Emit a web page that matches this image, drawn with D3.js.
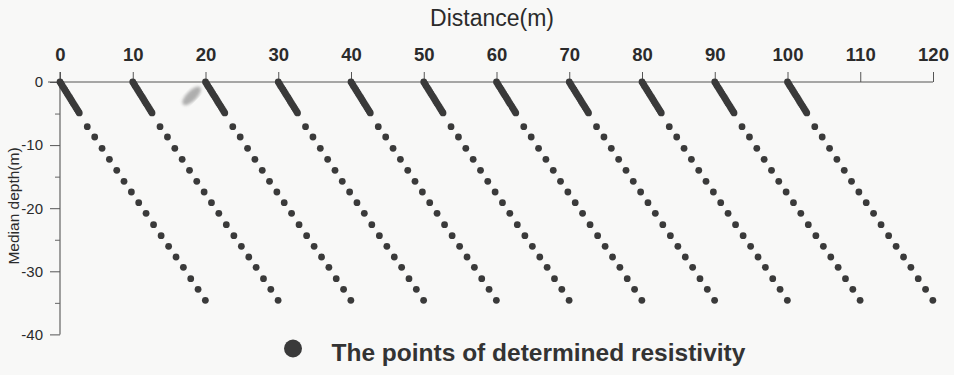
<!DOCTYPE html>
<html>
<head>
<meta charset="utf-8">
<script src="https://cdn.jsdelivr.net/npm/d3@7"></script>
<style>
  html, body { margin: 0; padding: 0; background: #f8f8f7; }
  svg { display: block; font-family: 'Liberation Sans', Arial, sans-serif; }
</style>
</head>
<body>
<svg id="chart" width="954" height="375"></svg>
<script>
// distance where each sounding line starts (m)
const lineStarts = [0, 10, 20, 30, 40, 50, 60, 70, 80, 90, 100];

// dense group of points right under the start (offset in m, median depth in m)
const denseDist  = [0, 0.17, 0.33, 0.5, 0.66, 0.83, 1.0, 1.16, 1.33, 1.5, 1.66, 1.83, 2.0, 2.16, 2.33, 2.5, 2.65];
const denseDepth = [0, -0.31, -0.62, -0.93, -1.23, -1.54, -1.85, -2.15, -2.46, -2.77, -3.08, -3.39, -3.7, -4.0, -4.31, -4.62, -4.9];

// the separate points further down
const sparseDist  = [3.75, 4.77, 5.78, 6.79, 7.8, 8.8, 9.81, 10.82, 11.83, 12.86, 13.9, 14.93, 15.95, 16.96, 17.97, 18.98, 19.98];
const sparseDepth = [-7.08, -8.72, -10.51, -12.25, -13.99, -15.74, -17.43, -19.13, -20.81, -22.61, -24.36, -26.04, -27.73, -29.37, -31.17, -32.85, -34.6];

const xTicks = [0, 10, 20, 30, 40, 50, 60, 70, 80, 90, 100, 110, 120];
const yTicks = [0, -10, -20, -30, -40];
const yTickLabels = ['0', '-10', '-20', '-30', '-40'];
const yMinorTicks = [-5, -15, -25, -35];

const svg = d3.select('#chart');
const ink = '#2b2b2b';
const dotColor = '#3a3a3a';

const x = d3.scaleLinear().domain([0, 120]).range([60, 933]);
const y = d3.scaleLinear().domain([0, -40]).range([82, 334.4]);

// scan smudge near 20 m
const defs = svg.append('defs');
defs.append('filter').attr('id', 'smudge')
  .append('feGaussianBlur').attr('stdDeviation', 1.8);
svg.append('ellipse')
  .attr('cx', x(18.1)).attr('cy', y(-2.2))
  .attr('rx', 12).attr('ry', 5)
  .attr('transform', 'rotate(-45,' + x(18.1) + ',' + y(-2.2) + ')')
  .attr('fill', '#909090')
  .attr('opacity', 0.7)
  .attr('filter', 'url(#smudge)');

// axes lines
svg.append('line')
  .attr('x1', 48).attr('x2', x(120))
  .attr('y1', y(0)).attr('y2', y(0))
  .attr('stroke', '#555').attr('stroke-width', 1.1);
svg.append('line')
  .attr('x1', x(0)).attr('x2', x(0))
  .attr('y1', y(0) - 10).attr('y2', y(-40))
  .attr('stroke', '#555').attr('stroke-width', 1.1);

const topAxis = svg.append('g')
  .attr('transform', 'translate(0,' + y(0) + ')')
  .call(d3.axisTop(x).tickValues(xTicks).tickSize(10).tickPadding(11).tickFormat(d => String(d)));
topAxis.select('.domain').remove();
topAxis.selectAll('line').attr('stroke', '#555');
topAxis.selectAll('text')
  .attr('fill', ink)
  .style('font-size', '18.5px')
  .style('font-weight', 'bold')
  .style('font-family', "'Liberation Sans', Arial, sans-serif");

const leftAxis = svg.append('g')
  .attr('transform', 'translate(' + x(0) + ',0)')
  .call(d3.axisLeft(y).tickValues(yTicks).tickSize(10).tickPadding(7)
    .tickFormat((d, i) => yTickLabels[i]));
leftAxis.select('.domain').remove();
leftAxis.selectAll('line').attr('stroke', '#555');
leftAxis.selectAll('text')
  .attr('fill', ink)
  .style('font-size', '15px')
  .style('font-family', "'Liberation Sans', Arial, sans-serif");

const minorAxis = svg.append('g')
  .attr('transform', 'translate(' + x(0) + ',0)')
  .call(d3.axisLeft(y).tickValues(yMinorTicks).tickSize(5).tickFormat(''));
minorAxis.select('.domain').remove();
minorAxis.selectAll('line').attr('stroke', '#666');

// titles
svg.append('text')
  .attr('x', 492).attr('y', 26)
  .attr('text-anchor', 'middle')
  .attr('fill', ink)
  .style('font-size', '23px')
  .text('Distance(m)');

svg.append('text')
  .attr('transform', 'translate(19,206) rotate(-90)')
  .attr('text-anchor', 'middle')
  .attr('fill', ink)
  .style('font-size', '15.5px')
  .text('Median depth(m)');

// points
const points = [];
lineStarts.forEach(s => {
  denseDist.forEach((d, i) => points.push({ dist: s + d, depth: denseDepth[i] }));
  sparseDist.forEach((d, i) => points.push({ dist: s + d, depth: sparseDepth[i] }));
});

svg.append('g').selectAll('circle')
  .data(points)
  .enter().append('circle')
  .attr('cx', d => x(d.dist))
  .attr('cy', d => y(d.depth))
  .attr('r', 3.4)
  .attr('fill', dotColor);

// legend
svg.append('circle')
  .attr('cx', 293).attr('cy', 348.5).attr('r', 9)
  .attr('fill', dotColor);
svg.append('text')
  .attr('x', 331.5).attr('y', 361)
  .attr('fill', '#333')
  .style('font-size', '24.5px')
  .style('font-weight', 'bold')
  .text('The points of determined resistivity');
</script>
</body>
</html>
